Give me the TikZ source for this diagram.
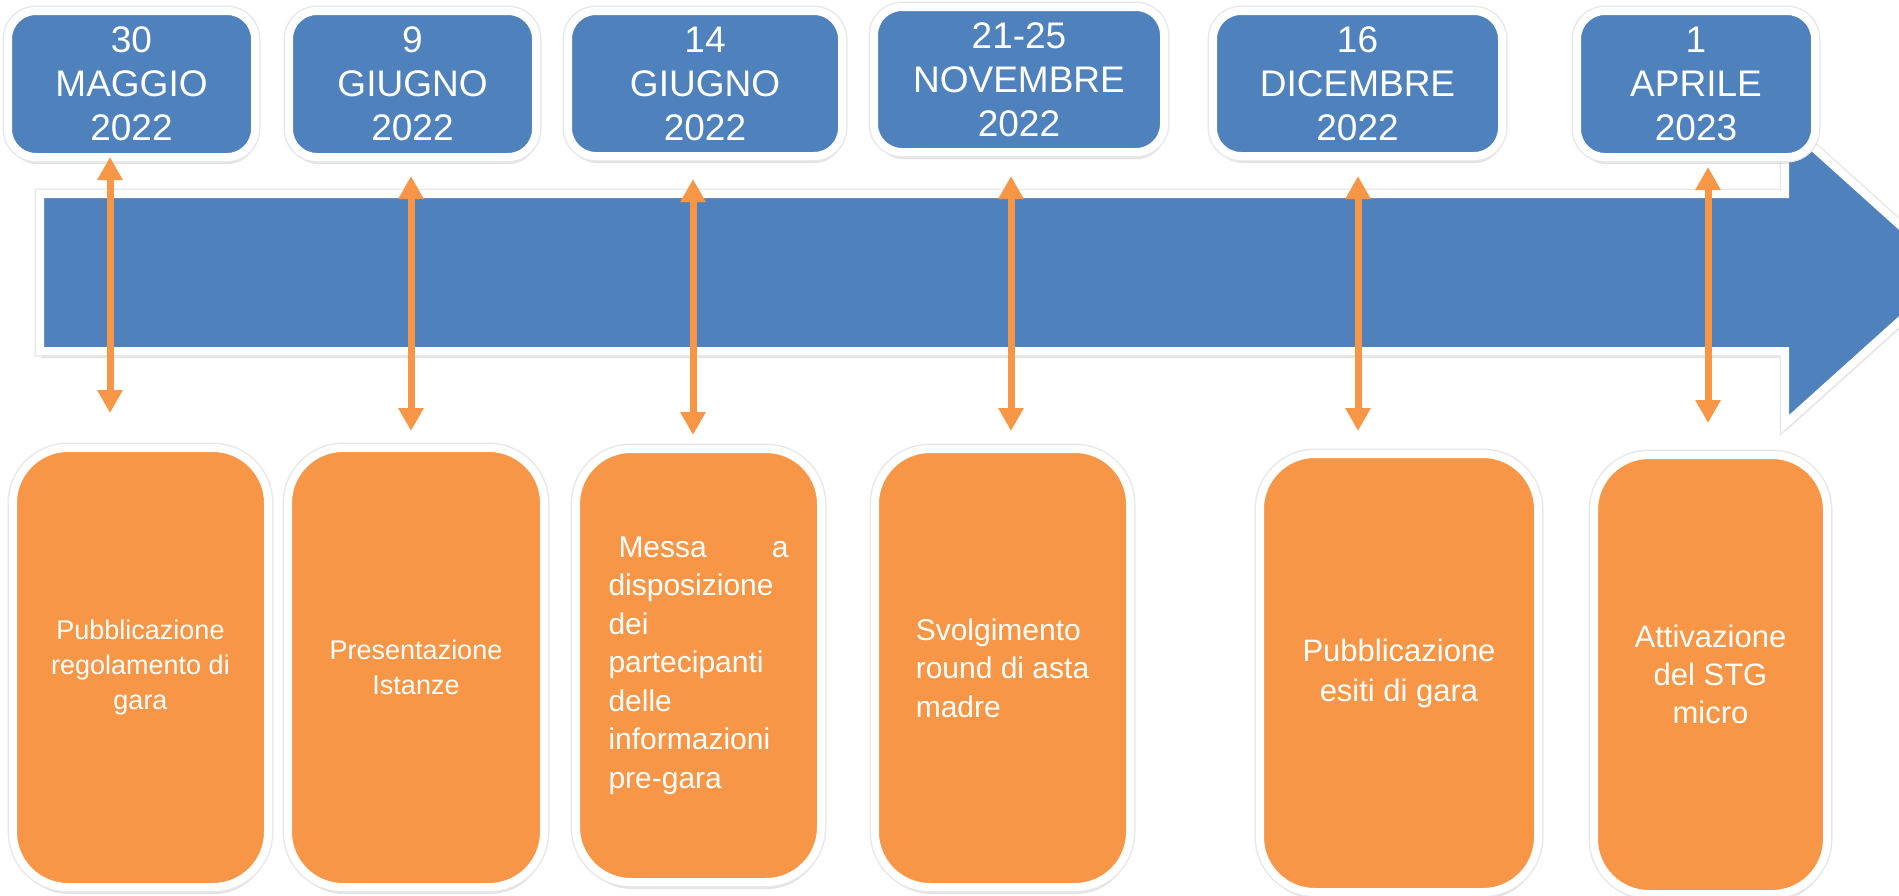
\documentclass[tikz,border=0pt]{standalone}
\usepackage{fontspec}
\setmainfont{Liberation Sans}
\usetikzlibrary{arrows.meta, shadows}
\definecolor{dateblue}{HTML}{4F81BD}
\definecolor{taskorange}{HTML}{F79646}

\begin{document}
\begin{tikzpicture}[x=1pt, y=-1pt, >={Triangle[width=24pt, length=23pt]}]
	\tikzstyle{soft} = [drop shadow={shadow xshift=1pt, shadow yshift=-7pt, opacity=0.22}, preaction={draw=black!9, line width=11pt}]
	\tikzstyle{timeline} = [draw=white, line width=8pt, fill=dateblue, soft]
	\tikzstyle{date} = [draw=white, line width=8pt, fill=dateblue, rounded corners=28pt, text=white, align=center, inner sep=0pt, font=\fontsize{37}{44}\selectfont, soft]
	\tikzstyle{task} = [draw=white, line width=8pt, fill=taskorange, rounded corners=55pt, text=white, inner sep=0pt, soft]
	\tikzstyle{link} = [<->, line width=7pt, draw=taskorange]

	\clip (0,0) rectangle (1899,895);
	\fill[white] (0,0) rectangle (1899,895);

	% freccia del tempo
	\path[timeline] (40,194) -- (1785,194) -- (1785,122) -- (1953,273) -- (1785,424) -- (1785,351) -- (40,351) -- cycle;

	% date
	\path
		node[date, minimum width=247pt, minimum height=146pt] (d1) at (131.5,84) {30\\MAGGIO\\2022}
		node[date, minimum width=247pt, minimum height=146pt] (d2) at (412.5,84) {9\\GIUGNO\\2022}
		node[date, minimum width=274pt, minimum height=145pt] (d3) at (705,83.5) {14\\GIUGNO\\2022}
		node[date, minimum width=290pt, minimum height=145pt] (d4) at (1019,79.5) {21-25\\NOVEMBRE\\2022}
		node[date, minimum width=289pt, minimum height=145pt] (d5) at (1357.5,83.5) {16\\DICEMBRE\\2022}
		node[date, minimum width=238pt, minimum height=146pt] (d6) at (1696,84) {1\\APRILE\\2023}
	;

	% attivita
	\path
		node[task, minimum width=255pt, minimum height=439pt, align=center, font=\fontsize{27}{35}\selectfont] (e1) at (140.5,667.5) {Pubblicazione\\regolamento di\\gara}
		node[task, minimum width=256pt, minimum height=439pt, align=center, font=\fontsize{27}{35}\selectfont] (e2) at (416,667.5) {Presentazione\\Istanze}
		node[task, minimum width=245pt, minimum height=433pt, text width=180pt, align=left, font=\fontsize{30}{38.5}\selectfont] (e3) at (698.5,665.5) {\hspace*{10pt}Messa\hfill a\\disposizione\\dei\\partecipanti\\delle\\informazioni\\pre-gara}
		node[task, minimum width=255pt, minimum height=438pt, align=left, font=\fontsize{30}{38.5}\selectfont] (e4) at (1002.5,668) {Svolgimento\\round di asta\\madre}
		node[task, minimum width=278pt, minimum height=438pt, align=center, font=\fontsize{31}{40}\selectfont] (e5) at (1399,673) {Pubblicazione\\esiti di gara}
		node[task, minimum width=233pt, minimum height=439pt, align=center, font=\fontsize{31}{38}\selectfont] (e6) at (1710.5,674.5) {Attivazione\\del STG\\micro}
	;

	% collegamenti
	\foreach \i/\x/\s/\e in {1/110/-4/31, 2/411/15/13, 3/693/19/10, 4/1011/20/14, 5/1358/16/19, 6/1708/6/28}
		\draw[link, shorten <=\s pt, shorten >=\e pt] (d\i.south -| \x,0) -- (e\i.north -| \x,0);
\end{tikzpicture}
\end{document}
